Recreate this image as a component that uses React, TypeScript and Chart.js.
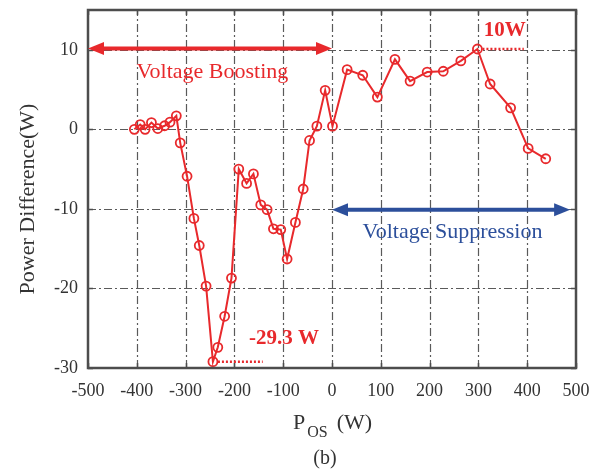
import React, { useEffect, useRef } from "react";
import { Chart, registerables } from "chart.js";

Chart.register(...registerables);

// ---- data ----
const pOs = [
  -405, -393, -383, -370, -357, -343, -332, -319, -311, -297, -283, -272, -258, -244, -234,
  -220, -206, -191, -175, -161, -146, -133, -120, -105, -92, -75, -59, -46, -31, -14, 1,
  31, 63, 93, 129, 160, 195, 228, 264, 298, 324, 366, 402, 438,
];
const powerDiff = [
  0, 0.6, 0, 0.85, 0.1, 0.45, 0.9, 1.7, -1.7, -5.9, -11.2, -14.6, -19.7, -29.2, -27.4,
  -23.5, -18.7, -5.0, -6.8, -5.6, -9.5, -10.1, -12.5, -12.6, -16.3, -11.7, -7.5, -1.4, 0.4, 4.9, 0.4,
  7.5, 6.8, 4.05, 8.8, 6.06, 7.2, 7.3, 8.6, 10.1, 5.7, 2.7, -2.4, -3.7,
];
const xTickValues = [-500, -400, -300, -200, -100, 0, 100, 200, 300, 400, 500];
const yTickValues = [-30, -20, -10, 0, 10];

const yTitle = "Power Difference(W)";
const xTitleMain = "P";
const xTitleSub = "OS";
const xTitleUnit = "(W)";
const caption = "(b)";
const boostLabel = "Voltage Boosting";
const suppressLabel = "Voltage Suppression";
const minLabel = "-29.3 W";
const maxLabel = "10W";

const FONT = '"Liberation Serif", "Times New Roman", serif';
const RED = "#e8292c";
const BLUE = "#2c4f9b";
const AXIS = "#4d4d4d";

function drawArrow(ctx: CanvasRenderingContext2D, x1: number, x2: number, y: number, color: string) {
  const head = 16;
  const hw = 6.5;
  ctx.save();
  ctx.strokeStyle = color;
  ctx.fillStyle = color;
  ctx.lineWidth = 4;
  ctx.beginPath();
  ctx.moveTo(x1 + head - 2, y);
  ctx.lineTo(x2 - head + 2, y);
  ctx.stroke();
  ctx.beginPath();
  ctx.moveTo(x1, y);
  ctx.lineTo(x1 + head, y - hw);
  ctx.lineTo(x1 + head, y + hw);
  ctx.closePath();
  ctx.fill();
  ctx.beginPath();
  ctx.moveTo(x2, y);
  ctx.lineTo(x2 - head, y - hw);
  ctx.lineTo(x2 - head, y + hw);
  ctx.closePath();
  ctx.fill();
  ctx.restore();
}

const overlayPlugin = {
  id: "overlay",
  beforeDatasetsDraw(chart: any) {
    const { ctx, chartArea: a, scales } = chart;
    const xs = scales.x;
    const ys = scales.y;
    ctx.save();
    // dash-dot grid
    ctx.strokeStyle = "#5a5a5a";
    ctx.lineWidth = 1.2;
    ctx.setLineDash([8, 3, 2, 3]);
    xTickValues.forEach((v) => {
      if (v === xs.min || v === xs.max) return;
      const px = Math.round(xs.getPixelForValue(v)) + 0.5;
      ctx.beginPath();
      ctx.moveTo(px, a.bottom);
      ctx.lineTo(px, a.top);
      ctx.stroke();
    });
    yTickValues.forEach((v) => {
      if (v === ys.min || v === ys.max) return;
      const py = Math.round(ys.getPixelForValue(v)) + 0.5;
      ctx.beginPath();
      ctx.moveTo(a.left, py);
      ctx.lineTo(a.right, py);
      ctx.stroke();
    });
    ctx.setLineDash([]);
    // inward ticks
    ctx.strokeStyle = AXIS;
    ctx.lineWidth = 1.5;
    const tl = 5;
    xTickValues.forEach((v) => {
      const px = Math.round(xs.getPixelForValue(v)) + 0.5;
      ctx.beginPath();
      ctx.moveTo(px, a.bottom);
      ctx.lineTo(px, a.bottom - tl);
      ctx.moveTo(px, a.top);
      ctx.lineTo(px, a.top + tl);
      ctx.stroke();
    });
    yTickValues.forEach((v) => {
      const py = Math.round(ys.getPixelForValue(v)) + 0.5;
      ctx.beginPath();
      ctx.moveTo(a.left, py);
      ctx.lineTo(a.left + tl, py);
      ctx.moveTo(a.right, py);
      ctx.lineTo(a.right - tl, py);
      ctx.stroke();
    });
    ctx.restore();
  },
  afterDatasetsDraw(chart: any) {
    const { ctx, chartArea: a, scales } = chart;
    const xs = scales.x;
    const ys = scales.y;
    const X = (v: number) => xs.getPixelForValue(v);
    const Y = (v: number) => ys.getPixelForValue(v);
    ctx.save();

    // frame
    ctx.strokeStyle = AXIS;
    ctx.lineWidth = 2.5;
    ctx.strokeRect(a.left, a.top, a.right - a.left, a.bottom - a.top);

    // region arrows
    drawArrow(ctx, X(-500), X(0), Y(10.15), RED);
    drawArrow(ctx, X(0), X(488), Y(-10.1), BLUE);

    ctx.textBaseline = "middle";
    ctx.textAlign = "center";
    ctx.font = `22px ${FONT}`;
    ctx.fillStyle = RED;
    ctx.fillText(boostLabel, X(-245), Y(7.2));
    ctx.fillStyle = BLUE;
    ctx.fillText(suppressLabel, X(247), Y(-12.95));

    // extreme markers (dotted)
    ctx.strokeStyle = RED;
    ctx.lineWidth = 2.5;
    ctx.setLineDash([2, 2]);
    const minIdx = powerDiff.indexOf(Math.min(...powerDiff));
    const maxIdx = powerDiff.indexOf(Math.max(...powerDiff));
    ctx.beginPath();
    ctx.moveTo(X(pOs[minIdx]) + 5, Y(powerDiff[minIdx]));
    ctx.lineTo(X(-142), Y(powerDiff[minIdx]));
    ctx.moveTo(X(pOs[maxIdx]) + 5, Y(powerDiff[maxIdx]));
    ctx.lineTo(X(393), Y(powerDiff[maxIdx]));
    ctx.stroke();
    ctx.setLineDash([]);

    ctx.font = `bold 21px ${FONT}`;
    ctx.textAlign = "left";
    ctx.fillStyle = RED;
    ctx.fillText(minLabel, X(-170), Y(-26.3));
    ctx.fillText(maxLabel, X(311), Y(12.45));

    ctx.restore();
  },
  afterDraw(chart: any) {
    const { ctx } = chart;
    ctx.save();
    ctx.fillStyle = "#333333";
    ctx.textBaseline = "middle";
    // y title
    ctx.save();
    ctx.translate(28, 199);
    ctx.rotate(-Math.PI / 2);
    ctx.textAlign = "center";
    ctx.font = `22px ${FONT}`;
    ctx.fillText(yTitle, 0, 0);
    ctx.restore();
    // x title with subscript
    ctx.textAlign = "left";
    let x = 293;
    ctx.font = `22px ${FONT}`;
    ctx.fillText(xTitleMain, x, 423);
    x += ctx.measureText(xTitleMain).width + 2;
    ctx.font = `16px ${FONT}`;
    ctx.fillText(xTitleSub, x, 433);
    x += ctx.measureText(xTitleSub).width + 9;
    ctx.font = `22px ${FONT}`;
    ctx.fillText(xTitleUnit, x, 423);
    // caption
    ctx.textAlign = "center";
    ctx.font = `20px ${FONT}`;
    ctx.fillText(caption, 325, 459);
    ctx.restore();
  },
};

export default function App() {
  const canvasRef = useRef<HTMLCanvasElement | null>(null);

  useEffect(() => {
    const canvas = canvasRef.current;
    if (!canvas) return;
    const chart = new Chart(canvas, {
      type: "line",
      data: {
        datasets: [
          {
            label: "Power Difference",
            data: pOs.map((v, i) => ({ x: v, y: powerDiff[i] })),
            borderColor: RED,
            borderWidth: 2,
            backgroundColor: "rgba(0,0,0,0)",
            pointStyle: "circle",
            pointRadius: 4.5,
            pointBorderWidth: 1.8,
            pointBorderColor: RED,
            pointBackgroundColor: "rgba(0,0,0,0)",
            tension: 0,
            fill: false,
          },
        ],
      },
      options: {
        responsive: false,
        animation: false,
        devicePixelRatio: 1,
        layout: { padding: { left: 0, right: 29, top: 10, bottom: 0 } },
        plugins: {
          legend: { display: false },
          tooltip: { enabled: false },
        },
        scales: {
          x: {
            type: "linear",
            min: -500,
            max: 500,
            afterBuildTicks: (s: any) => {
              s.ticks = xTickValues.map((v) => ({ value: v }));
            },
            afterFit: (s: any) => {
              s.height = 106;
              s.paddingLeft = 0;
              s.paddingRight = 0;
            },
            ticks: {
              font: { family: FONT, size: 18 },
              color: "#333333",
              padding: 12,
              maxRotation: 0,
              autoSkip: false,
            },
            grid: { display: false, drawTicks: false },
            border: { display: false },
          },
          y: {
            type: "linear",
            min: -30,
            max: 15,
            afterBuildTicks: (s: any) => {
              s.ticks = yTickValues.map((v) => ({ value: v }));
            },
            afterFit: (s: any) => {
              s.width = 88;
              s.paddingTop = 0;
              s.paddingBottom = 0;
            },
            ticks: {
              font: { family: FONT, size: 18 },
              color: "#333333",
              padding: 10,
              autoSkip: false,
            },
            grid: { display: false, drawTicks: false },
            border: { display: false },
          },
        },
      },
      plugins: [overlayPlugin],
    } as any);
    return () => chart.destroy();
  }, []);

  return (
    <div style={{ position: "absolute", left: 0, top: 0, width: 605, height: 474, background: "#fff" }}>
      <canvas ref={canvasRef} width={605} height={474} style={{ display: "block" }} />
    </div>
  );
}
